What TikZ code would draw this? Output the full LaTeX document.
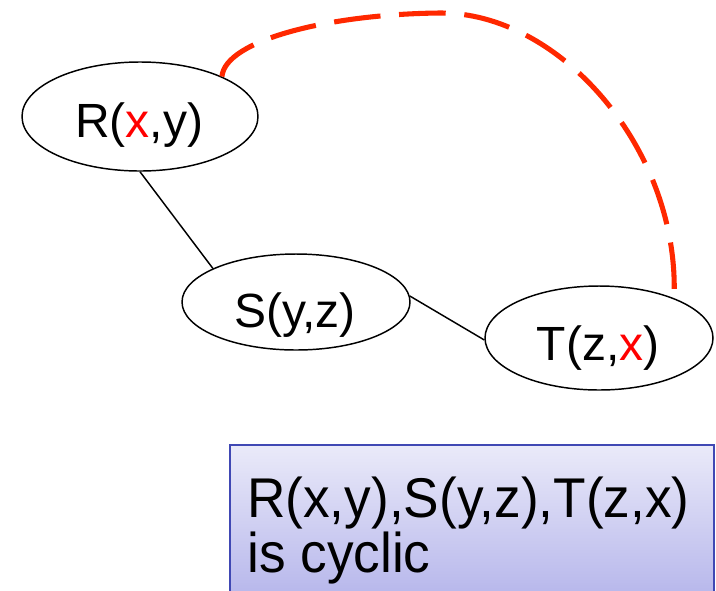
\documentclass[tikz,border=0pt]{standalone}
\usepackage{fontspec}
\setmainfont{Liberation Sans}
\usetikzlibrary{shapes.geometric}
\definecolor{dashred}{RGB}{255,40,0}
\definecolor{varred}{RGB}{255,0,0}
\definecolor{boxborder}{RGB}{64,72,180}
\definecolor{boxtop}{RGB}{234,234,249}
\definecolor{boxbottom}{RGB}{178,178,234}
\tikzset{
  relnode/.style={draw=black, ellipse, line width=1.1pt, inner sep=0pt},
  reltext/.style={anchor=base, inner sep=0pt, font=\fontsize{36}{43}\selectfont},
  boxtext/.style={anchor=base west, inner sep=0pt, font=\fontsize{42}{50}\selectfont},
  treeedge/.style={draw=black, line width=1.1pt},
  cycleedge/.style={draw=dashred, line width=3.8pt, dash pattern=on 35pt off 14pt},
}
\begin{document}
\begin{tikzpicture}[x=0.75pt,y=-0.75pt]
\useasboundingbox (0,0) rectangle (716,590);
\begin{scope}
\clip (0,0) rectangle (716,590);
% note box
\path[shade, top color=boxtop, bottom color=boxbottom, draw=boxborder, line width=1.6pt]
  (230,445) rectangle (714,610);
\end{scope}
\node[boxtext] (line1) at (247,517) {\scalebox{0.95}[1]{R(x,y),S(y,z),T(z,x)}};
\node[boxtext] (line2) at (247,572) {\scalebox{0.95}[1]{is cyclic}};

% relation nodes
\node[relnode, minimum width=177pt, minimum height=81.75pt] (R) at (140,116.5) {};
\node[relnode, minimum width=171pt, minimum height=72pt] (S) at (296,302) {};
\node[relnode, minimum width=171pt, minimum height=78pt] (T) at (599,338) {};

\node[reltext] (Rt) at (139,137) {R(\textcolor{varred}{x},y)};
\node[reltext] (St) at (295,327) {S(y,z)};
\node[reltext] (Tt) at (598,360) {T(z,\textcolor{varred}{x})};

% tree edges
\draw[treeedge] (R.south) -- (S.158);
\draw[treeedge] (S.3) -- (T.181);

% cycle edge
\coordinate (top) at (440,13);
\draw[cycleedge] (R.26) .. controls (225,40) and (330,14) .. (top)
  .. controls (560,12) and (680,150) .. (T.28);
\end{tikzpicture}
\end{document}
